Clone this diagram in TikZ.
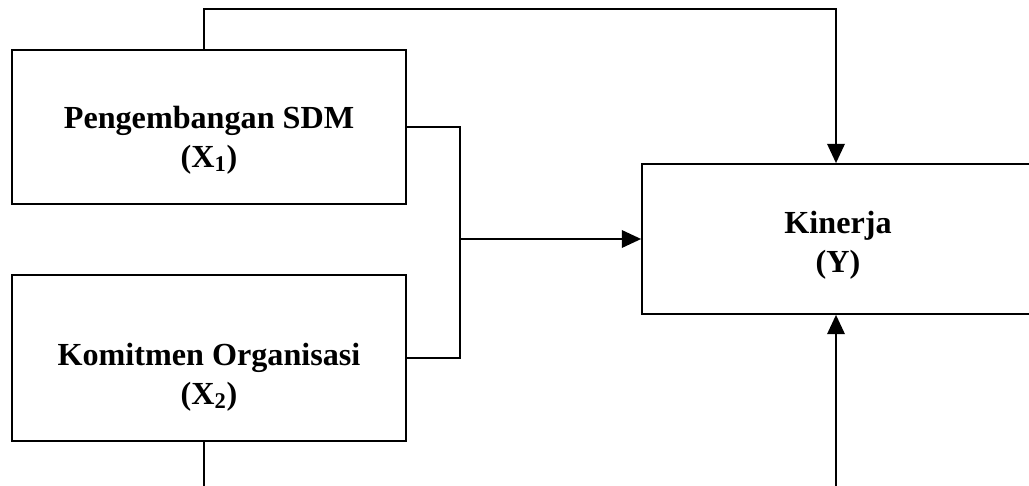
\documentclass[tikz,border=0pt]{standalone}
\usepackage{fontspec}
\setmainfont{Liberation Serif}
\usetikzlibrary{arrows.meta}

\begin{document}
\begin{tikzpicture}[x=0.02cm,y=-0.02cm,line width=1pt]
\tikzstyle{box}=[draw,inner sep=0pt]
\tikzstyle{txt}=[align=center,font=\fontsize{18.3}{22}\selectfont\bfseries,inner sep=0pt]
\tikzstyle{arr}=[-{Triangle[length=11pt,width=10pt]}]
\useasboundingbox (0,0) rectangle (1029,486);
% boxes
\node[box,minimum width=394*0.02cm,minimum height=154*0.02cm] (dev) at (209,127) {};
\node[box,minimum width=394*0.02cm,minimum height=166*0.02cm] (kom) at (209,358) {};
\node[box,minimum width=392*0.02cm,minimum height=150*0.02cm] (kin) at (838,239) {};
% labels
\node[txt] (devtxt) at (209,140) {Pengembangan SDM\\(X\textsubscript{1})};
\node[txt] (komtxt) at (209,377) {Komitmen Organisasi\\(X\textsubscript{2})};
\node[txt] (kintxt) at (838,245) {Kinerja\\(Y)};
\coordinate (join) at (460,239);
\coordinate (low1) at (204,490);
\coordinate (low2) at (836,490);
\draw (dev.east) -| (join);
\draw (kom.east) -| (join);
\draw[arr] (join) -- (kin.west);
\draw[arr] ([xshift=-5*0.02cm]dev.north) -- ++(0,-40) -| ([xshift=-2*0.02cm]kin.north);
\draw (kom.south -| low1) -- (low1);
\draw[arr] (low2) -- (kin.south -| low2);
\end{tikzpicture}
\end{document}
